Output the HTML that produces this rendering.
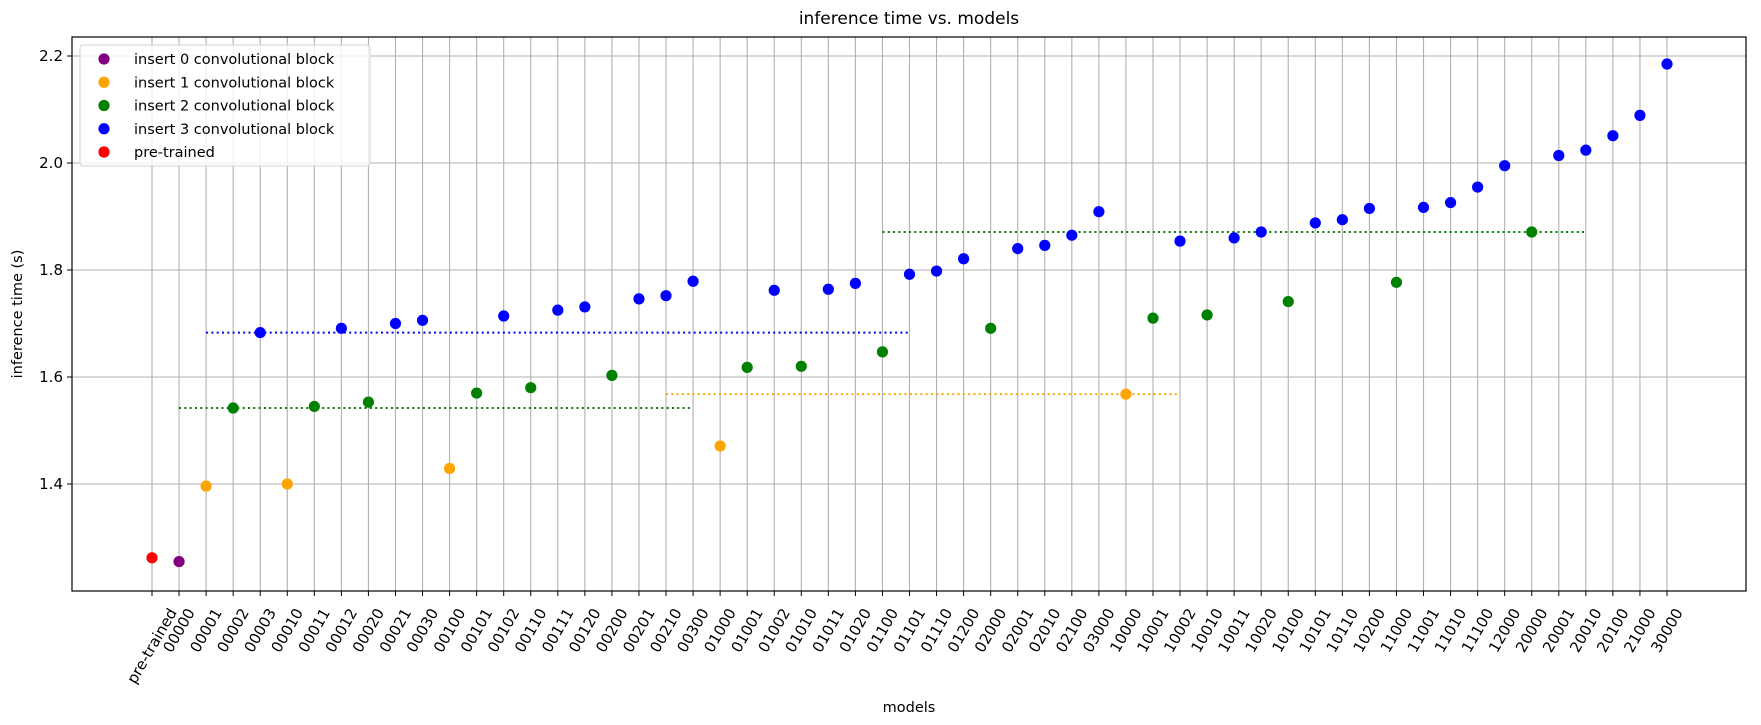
<!DOCTYPE html>
<html><head><meta charset="utf-8"><style>
html,body{margin:0;padding:0;background:#fff}
svg{display:block;font-family:"DejaVu Sans","Liberation Sans",sans-serif}
</style></head><body>
<svg id="chart" width="1761" height="725">
<text x="909" y="24" font-size="17" text-anchor="middle">inference time vs. models</text>
<text x="909" y="712" font-size="14.5" text-anchor="middle">models</text>
<text transform="translate(22,314) rotate(-90)" font-size="14.5" text-anchor="middle">inference time (s)</text>
<g id="grid"></g><g id="lines"></g><g id="points"></g><g id="axes"></g><g id="legend"></g>
</svg>
<script>
const categories=["pre-trained","00000","00001","00002","00003","00010","00011","00012","00020","00021","00030","00100","00101","00102","00110","00111","00120","00200","00201","00210","00300","01000","01001","01002","01010","01011","01020","01100","01101","01110","01200","02000","02001","02010","02100","03000","10000","10001","10002","10010","10011","10020","10100","10101","10110","10200","11000","11001","11010","11100","12000","20000","20001","20010","20100","21000","30000"];
const values=[1.262,1.255,1.396,1.542,1.683,1.40,1.545,1.691,1.553,1.700,1.706,1.429,1.570,1.714,1.580,1.725,1.731,1.603,1.746,1.752,1.779,1.471,1.618,1.762,1.620,1.764,1.775,1.647,1.792,1.798,1.821,1.691,1.840,1.846,1.865,1.909,1.568,1.710,1.854,1.716,1.860,1.871,1.741,1.888,1.894,1.915,1.777,1.917,1.926,1.955,1.995,1.871,2.014,2.024,2.051,2.089,2.185];
const groups=[4,0,1,2,3,1,2,3,2,3,3,1,2,3,2,3,3,2,3,3,3,1,2,3,2,3,3,2,3,3,3,2,3,3,3,3,1,2,3,2,3,3,2,3,3,3,2,3,3,3,3,2,3,3,3,3,3];
const groupColors=["purple","orange","green","blue","red"];
const legendLabels=["insert 0 convolutional block","insert 1 convolutional block","insert 2 convolutional block","insert 3 convolutional block","pre-trained"];
const refStart=[2,1,19,27];
const refEnd=[28,20,38,53];
const refValue=[1.683,1.542,1.568,1.871];
const refColor=["blue","green","orange","green"];
const yTicks=[1.4,1.6,1.8,2.0,2.2];
const NS="http://www.w3.org/2000/svg";
const L=72,R=1746,T=37,B=591;
function xs(i){return 152+i*(1667-152)/56;}
function ys(v){return 56+(2.2-v)*535;}
function mk(t,a,p){const e=document.createElementNS(NS,t);for(const k in a)e.setAttribute(k,a[k]);p.appendChild(e);return e;}
const grid=document.getElementById('grid'),axes=document.getElementById('axes'),pts=document.getElementById('points'),lines=document.getElementById('lines'),leg=document.getElementById('legend');
const FS=15;
categories.forEach((c,i)=>{
 const x=xs(i);
 const g=mk('line',{x1:x,x2:x,y1:T,y2:B,stroke:'#b0b0b0','stroke-width':1.1},grid);
 
 
 const tk=mk('line',{x1:x,x2:x,y1:B,y2:B+5,stroke:'#000','stroke-width':1},axes);
 
 
 const t=mk('text',{'font-size':FS,'text-anchor':'middle','dominant-baseline':'central'},axes);
 t.textContent=c;
 
 
 const len=t.getComputedTextLength();
 const H=len*0.866+FS*0.5;
 t.setAttribute('transform','translate('+(x)+','+(606+H/2)+') rotate(-60)');
});
yTicks.forEach(v=>{
 const y=ys(v);
 const g=mk('line',{x1:L,x2:R,y1:y,y2:y,stroke:'#b0b0b0','stroke-width':1.1},grid);
 
 
 const tk=mk('line',{x1:L-5,x2:L,y1:y,y2:y,stroke:'#000'},axes);
 
 
 const t=mk('text',{x:L-9,y:y+5,'font-size':FS,'text-anchor':'end'},axes);
 t.textContent=v.toFixed(1);
 
 
});
const fr=mk('rect',{x:L,y:T,width:R-L,height:B-T,fill:'none',stroke:'#000','stroke-width':1.2},axes);


refValue.forEach((v,k)=>{
 const l=mk('line',{x1:xs(refStart[k]),x2:xs(refEnd[k]),y1:ys(v),y2:ys(v),stroke:refColor[k],'stroke-width':2,'stroke-dasharray':'2,3.3'},lines);
 
 
});
values.forEach((v,i)=>{
 const c=mk('circle',{cx:xs(i),cy:ys(v),r:5.6,fill:groupColors[groups[i]]},pts);
 
 
});
const lb=mk('rect',{x:80,y:45,width:290,height:121,rx:3,fill:'#fff','fill-opacity':0.8,stroke:'#d0d0d0'},leg);


legendLabels.forEach((s,k)=>{
 const y=59+k*23.25;
 const c=mk('circle',{cx:104,cy:y,r:5.6,fill:groupColors[k]},leg);
 
 
 const t=mk('text',{x:134,y:y+5,'font-size':14.5},leg);
 t.textContent=s;
 
 
});
</script>
</body></html>
